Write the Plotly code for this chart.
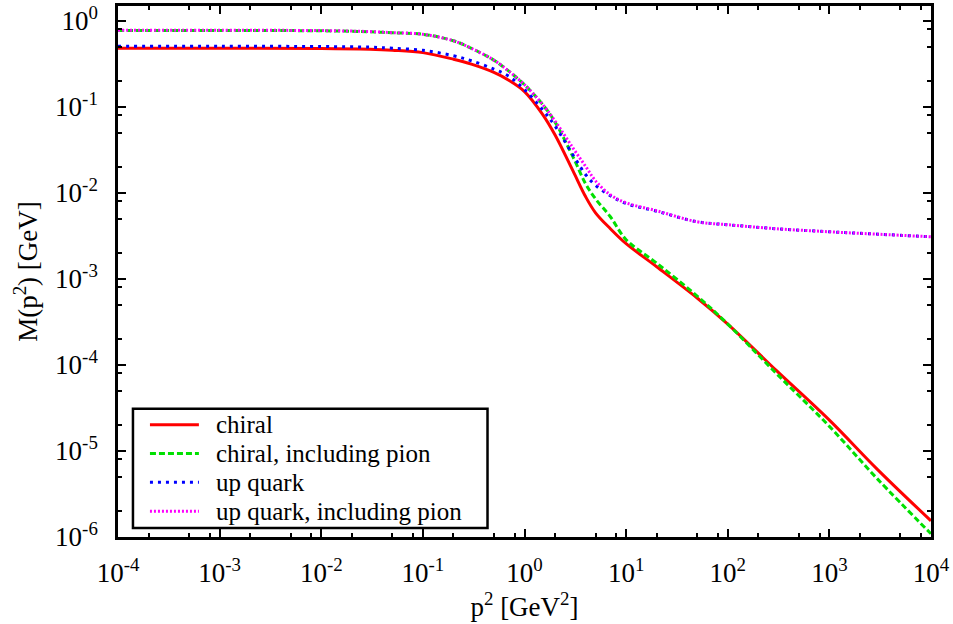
import plotly.graph_objects as go

# p^2 [GeV^2]
p2 = [1e-4, 1e-3, 1e-2, 3e-2, 0.05, 0.1, 0.2, 0.3, 0.5, 0.7, 1.0, 1.5, 2.0, 3.0, 4.0, 5.0, 7.0,
      10.0, 20.0, 50.0, 100.0, 300.0, 1000.0, 3000.0, 10000.0]

# M(p^2) [GeV]
m_chiral = [0.478, 0.478, 0.476, 0.465, 0.453, 0.425, 0.356, 0.312, 0.250, 0.203, 0.150, 0.0821, 0.0469,
            0.01794, 0.00897, 0.00585, 0.00382, 0.00256, 0.00138, 5.99e-4, 2.98e-4, 8.63e-5,
            2.28e-5, 6.03e-6, 1.54e-6]
m_chiral_pion = [0.766, 0.766, 0.762, 0.742, 0.722, 0.694, 0.583, 0.477, 0.347, 0.259, 0.180, 0.107, 0.0662,
                 0.0261, 0.01268, 0.00850, 0.00526, 0.00285, 0.00152, 6.30e-4, 2.98e-4, 7.97e-5,
                 1.93e-5, 4.67e-6, 1.09e-6]
m_up = [0.504, 0.504, 0.500, 0.492, 0.478, 0.452, 0.391, 0.342, 0.273, 0.226, 0.158, 0.0928, 0.0595,
        0.0275, 0.0162, 0.01219, 0.00921, 0.00750, 0.00610, 0.00460, 0.00425, 0.00382,
        0.00352, 0.00330, 0.00308]
m_up_pion = [0.772, 0.772, 0.766, 0.746, 0.725, 0.694, 0.583, 0.477, 0.347, 0.259, 0.180, 0.107, 0.0681,
             0.0331, 0.0202, 0.01374, 0.00946, 0.00764, 0.00617, 0.00460, 0.00425, 0.00382,
             0.00352, 0.00330, 0.00308]

names = ["chiral", "chiral, including pion", "up quark", "up quark, including pion"]

x_major = [10.0 ** k for k in range(-4, 5)]
x_major_text = ["10<sup>%d</sup>" % k for k in range(-4, 5)]
y_major = [10.0 ** k for k in range(-6, 1)]
y_major_text = ["10<sup>%d</sup>" % k for k in range(-6, 1)]
x_minor = [m * 10.0 ** k for k in range(-4, 4) for m in (2, 5, 8)]
y_minor = [m * 10.0 ** k for k in range(-6, 1) for m in (2, 5, 8)]

FONT = "Liberation Serif"

styles = [
    dict(color="#ff0000", width=3, dash="solid"),
    dict(color="#00e000", width=3, dash="6px,3px"),
    dict(color="#0000ff", width=3, dash="3px,5px"),
    dict(color="#ff00ff", width=3, dash="2px,2px"),
]

fig = go.Figure()
for name, ys, st in zip(names, [m_chiral, m_chiral_pion, m_up, m_up_pion], styles):
    fig.add_trace(go.Scatter(x=p2, y=ys, mode="lines", name=name, showlegend=False,
                             line=dict(shape="spline", smoothing=1.0, **st)))

# legend box drawn in paper coordinates (gnuplot-style key)
key_x0, key_x1, key_y0, key_y1 = 0.0184, 0.4545, 0.0169, 0.2416
key_rows = [0.2116, 0.1573, 0.1030, 0.0487]
sample_x0, sample_x1, text_x = 0.0393, 0.0995, 0.1192

shapes = [dict(type="rect", xref="paper", yref="paper", x0=key_x0, x1=key_x1, y0=key_y0, y1=key_y1,
               line=dict(color="black", width=2.5), fillcolor="white", layer="above")]
annotations = []
for name, st, yr in zip(names, styles, key_rows):
    shapes.append(dict(type="line", xref="paper", yref="paper", x0=sample_x0, x1=sample_x1,
                       y0=yr, y1=yr, line=dict(color=st["color"], width=st["width"], dash=st["dash"]),
                       layer="above"))
    annotations.append(dict(xref="paper", yref="paper", x=text_x, y=yr, text=name, showarrow=False,
                            xanchor="left", yanchor="middle", borderpad=0,
                            font=dict(family=FONT, size=25, color="black")))

axis_common = dict(
    type="log", showline=True, linecolor="black", linewidth=2.5, mirror="ticks",
    ticks="inside", ticklen=8, tickwidth=2, tickcolor="black", showgrid=False,
    zeroline=False, tickfont=dict(family=FONT, size=27, color="black"),
)

fig.update_xaxes(
    range=[-4, 4], tickmode="array", tickvals=x_major, ticktext=x_major_text,
    minor=dict(tickmode="array", tickvals=x_minor, ticks="inside", ticklen=4, tickwidth=2,
               tickcolor="black", showgrid=False),
    title=dict(text="p<sup>2</sup> [GeV<sup>2</sup>]", font=dict(family=FONT, size=27, color="black"),
               standoff=6),
    ticklabelstandoff=10,
    **axis_common,
)
fig.update_yaxes(
    range=[-6, 0.17], tickmode="array", tickvals=y_major, ticktext=y_major_text,
    minor=dict(tickmode="array", tickvals=y_minor, ticks="inside", ticklen=4, tickwidth=2,
               tickcolor="black", showgrid=False),
    title=dict(text="M(p<sup>2</sup>) [GeV]", font=dict(family=FONT, size=27, color="black"),
               standoff=10),
    ticklabelstandoff=12,
    **axis_common,
)

fig.update_layout(
    width=953, height=624,
    margin=dict(l=118, r=21, t=3, b=87),
    paper_bgcolor="white", plot_bgcolor="white",
    font=dict(family=FONT, color="black"),
    shapes=shapes, annotations=annotations,
    showlegend=False,
)

fig.write_html("out.html")
